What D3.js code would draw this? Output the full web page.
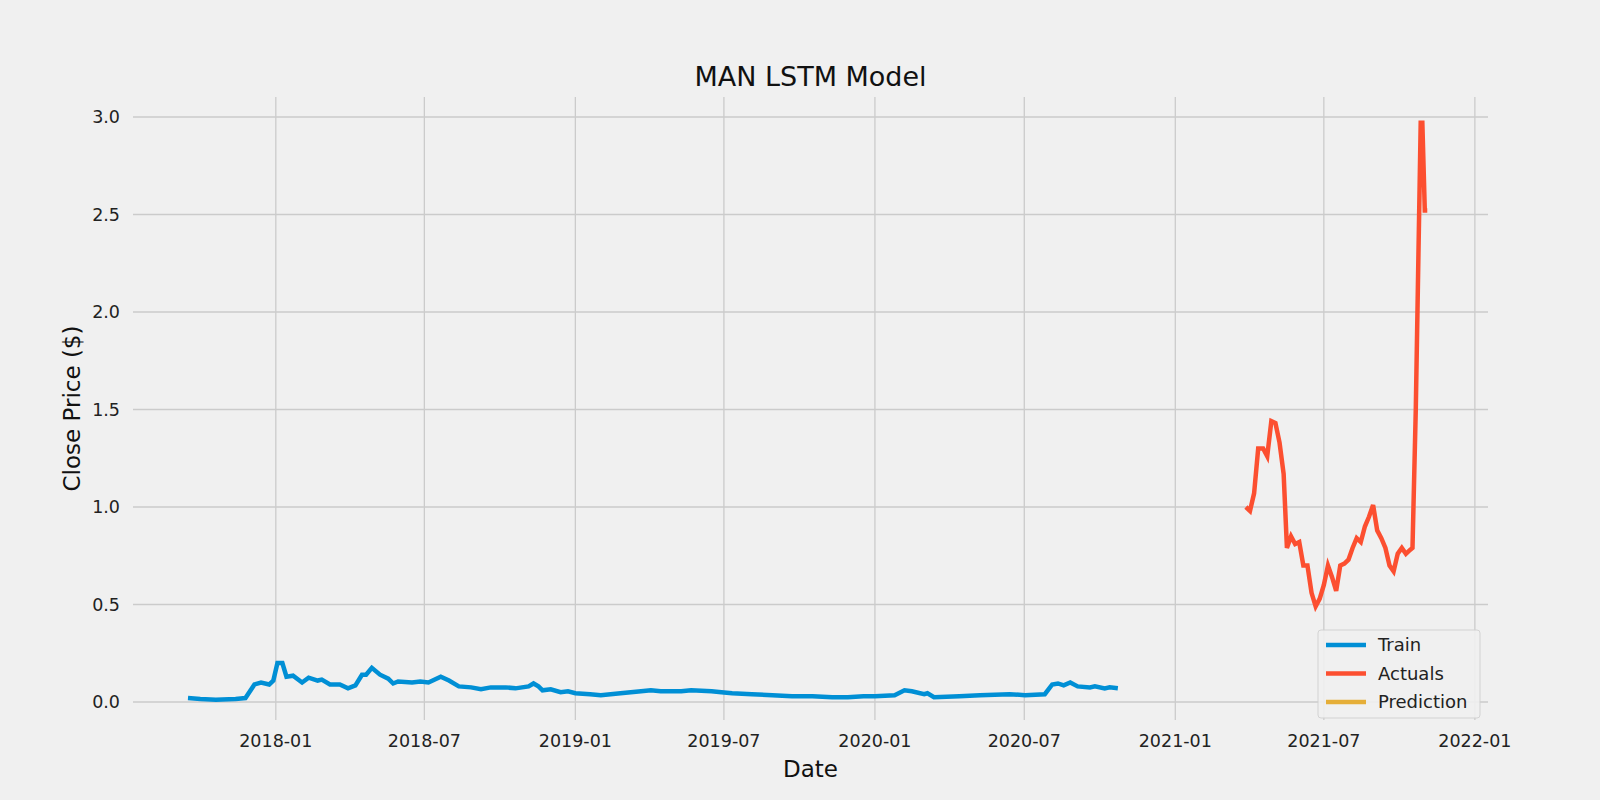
<!DOCTYPE html><html><head><meta charset="utf-8"><script src="https://cdn.jsdelivr.net/npm/d3@7"></script>
<style>html,body{margin:0;background:#f0f0f0;overflow:hidden}svg{display:block;font-family:"DejaVu Sans",sans-serif}</style></head><body><svg width="1600" height="800"></svg>
<script>
const trainDates=["2017-09-16","2017-10-01","2017-10-20","2017-11-13","2017-11-25","2017-12-06","2017-12-14","2017-12-24","2017-12-29","2018-01-03","2018-01-09","2018-01-14","2018-01-22","2018-02-02","2018-02-10","2018-02-21","2018-02-26","2018-03-08","2018-03-20","2018-03-30","2018-04-08","2018-04-16","2018-04-21","2018-04-28","2018-05-08","2018-05-18","2018-05-24","2018-05-30","2018-06-16","2018-06-26","2018-07-06","2018-07-21","2018-07-31","2018-08-12","2018-08-27","2018-09-08","2018-09-20","2018-10-08","2018-10-20","2018-11-05","2018-11-11","2018-11-17","2018-11-22","2018-12-02","2018-12-14","2018-12-23","2019-01-01","2019-01-19","2019-02-01","2019-02-25","2019-03-22","2019-04-03","2019-04-15","2019-05-10","2019-05-22","2019-06-16","2019-06-28","2019-07-11","2019-08-04","2019-08-29","2019-09-22","2019-10-17","2019-11-10","2019-11-29","2019-12-18","2020-01-01","2020-01-25","2020-02-06","2020-02-15","2020-03-01","2020-03-05","2020-03-13","2020-04-13","2020-05-08","2020-06-13","2020-07-02","2020-07-26","2020-08-04","2020-08-11","2020-08-18","2020-08-26","2020-09-04","2020-09-19","2020-09-25","2020-10-07","2020-10-13","2020-10-23"];
const trainValues=[0.02,0.015,0.012,0.015,0.02,0.09,0.1,0.09,0.11,0.2,0.2,0.13,0.135,0.1,0.125,0.11,0.115,0.09,0.09,0.07,0.085,0.14,0.14,0.175,0.14,0.12,0.095,0.105,0.1,0.105,0.1,0.13,0.11,0.08,0.075,0.065,0.075,0.075,0.07,0.08,0.095,0.08,0.06,0.065,0.05,0.055,0.045,0.04,0.035,0.045,0.055,0.06,0.055,0.055,0.06,0.055,0.05,0.045,0.04,0.035,0.03,0.03,0.025,0.025,0.03,0.03,0.035,0.06,0.055,0.04,0.045,0.025,0.03,0.035,0.04,0.035,0.04,0.09,0.095,0.085,0.1,0.08,0.075,0.08,0.07,0.075,0.07];
const actualDates=["2021-03-28","2021-04-02","2021-04-07","2021-04-12","2021-04-18","2021-04-23","2021-04-28","2021-05-03","2021-05-08","2021-05-13","2021-05-17","2021-05-22","2021-05-27","2021-06-01","2021-06-06","2021-06-11","2021-06-16","2021-06-21","2021-06-26","2021-07-01","2021-07-06","2021-07-11","2021-07-16","2021-07-21","2021-07-26","2021-07-31","2021-08-05","2021-08-10","2021-08-15","2021-08-20","2021-08-25","2021-08-30","2021-09-04","2021-09-09","2021-09-14","2021-09-19","2021-09-24","2021-09-29","2021-10-04","2021-10-09","2021-10-14","2021-10-17","2021-10-21","2021-10-27","2021-10-29","2021-11-01","2021-11-04"];
const actualValues=[1.0,0.98,1.07,1.3,1.3,1.26,1.44,1.43,1.33,1.17,0.79,0.85,0.81,0.82,0.7,0.7,0.56,0.49,0.53,0.6,0.7,0.64,0.57,0.7,0.71,0.73,0.79,0.84,0.82,0.9,0.95,1.01,0.88,0.84,0.79,0.7,0.67,0.76,0.79,0.76,0.78,0.79,1.5,2.97,2.97,2.52,2.52];
const yTicks=[0,0.5,1,1.5,2,2.5,3];
const xTickLabels=["2018-01","2018-07","2019-01","2019-07","2020-01","2020-07","2021-01","2021-07","2022-01"];
const legendLabels=["Train","Actuals","Prediction"];
const colors=["#008fd5","#fc4f30","#e5ae38"];

const p=d3.timeParse("%Y-%m-%d"), pm=d3.timeParse("%Y-%m");
const svg=d3.select("svg");
const L=133,R=1488,T=97,B=720;
const x=d3.scaleTime().domain([p("2017-07-11"),p("2022-01-17")]).range([L,R]);
const y=d3.scaleLinear().domain([-0.0923,3.1026]).range([B,T]);
const g=svg.append("g");
xTickLabels.forEach(t=>{const xx=x(pm(t));
 g.append("line").attr("x1",xx).attr("x2",xx).attr("y1",T).attr("y2",B).attr("stroke","#cbcbcb").attr("stroke-width",1.3);
 g.append("text").attr("x",xx).attr("y",B+27).attr("text-anchor","middle").attr("font-size",17.5).attr("fill","#222").text(t);});
yTicks.forEach(t=>{const yy=y(t);
 g.append("line").attr("x1",L).attr("x2",R).attr("y1",yy).attr("y2",yy).attr("stroke","#cbcbcb").attr("stroke-width",1.3);
 g.append("text").attr("x",L-13).attr("y",yy+6).attr("text-anchor","end").attr("font-size",17.5).attr("fill","#222").text(t.toFixed(1));});
const line=d3.line().x(d=>x(d[0])).y(d=>y(d[1]));
g.append("path").datum(trainDates.map((d,i)=>[p(d),trainValues[i]])).attr("d",line).attr("fill","none").attr("stroke",colors[0]).attr("stroke-width",4.5);
g.append("path").datum(actualDates.map((d,i)=>[p(d),actualValues[i]])).attr("d",line).attr("fill","none").attr("stroke",colors[1]).attr("stroke-width",4.5);
svg.append("text").attr("x",(L+R)/2).attr("y",86).attr("text-anchor","middle").attr("font-size",27).attr("fill","#111").text("MAN LSTM Model");
svg.append("text").attr("x",(L+R)/2).attr("y",777).attr("text-anchor","middle").attr("font-size",23).attr("fill","#111").text("Date");
svg.append("text").attr("transform",`translate(80,${(T+B)/2}) rotate(-90)`).attr("text-anchor","middle").attr("font-size",23).attr("fill","#111").text("Close Price ($)");
const lg=svg.append("g").attr("transform","translate(1318,630)");
lg.append("rect").attr("width",162).attr("height",88).attr("rx",3).attr("fill","#f0f0f0").attr("stroke","#d0d0d0").attr("opacity",0.9);
legendLabels.forEach((l,i)=>{const yy=15+i*28.5;
 lg.append("line").attr("x1",8).attr("x2",48).attr("y1",yy).attr("y2",yy).attr("stroke",colors[i]).attr("stroke-width",4.5);
 lg.append("text").attr("x",60).attr("y",yy+6).attr("font-size",18).attr("fill","#222").text(l);});
</script></body></html>
